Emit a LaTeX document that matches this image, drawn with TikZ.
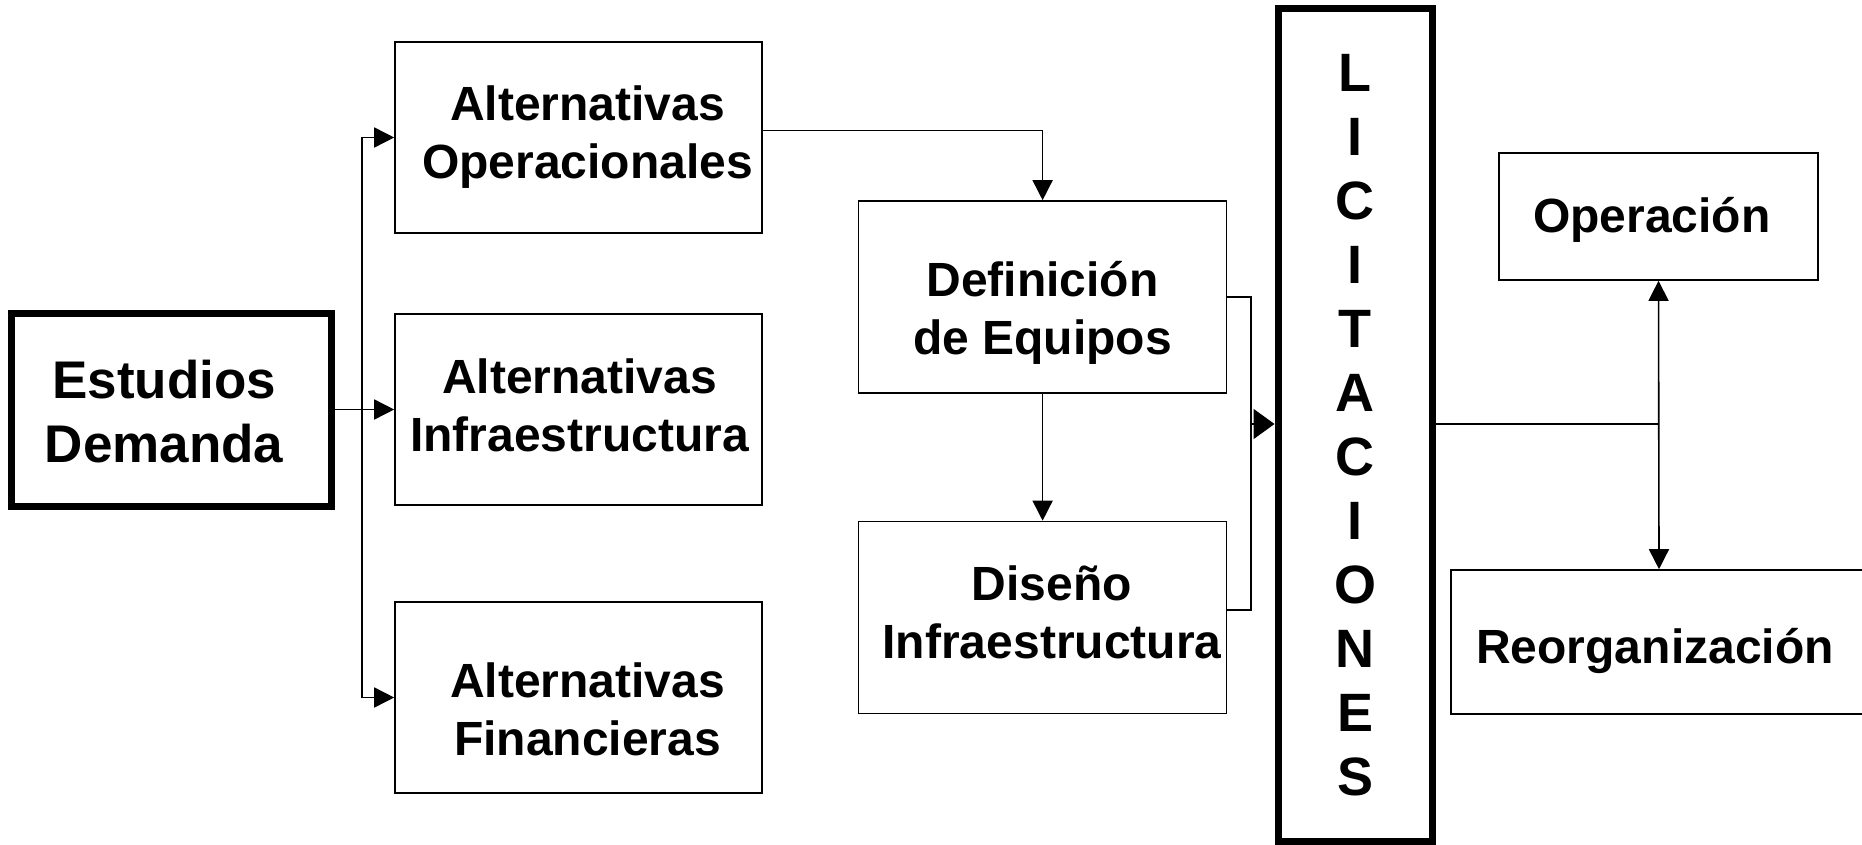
\documentclass[tikz,border=0pt]{standalone}
\usepackage{fontspec}
\setmainfont{Liberation Sans}
\usetikzlibrary{arrows.meta}
\tikzset{
  box/.style={draw, line width=0.8pt, inner sep=0pt,
    minimum width=183.5pt, minimum height=95.75pt},
  thickbox/.style={box, line width=3.5pt},
  boxtext/.style={align=center, inner sep=0pt,
    font=\fontsize{24}{29}\selectfont\bfseries},
  tip/.style={-{Triangle[length=10pt,width=10pt]}, line width=0.8pt},
  line/.style={line width=0.8pt}
}
\begin{document}
\begin{tikzpicture}[x=0.5pt,y=-0.5pt]
\useasboundingbox (0,0) rectangle (1862,845);
% left column
\node[thickbox, minimum width=160pt, minimum height=96.5pt,
  label={[boxtext, font=\fontsize{26.5}{32}\selectfont\bfseries, shift={(-3.4pt,-1.2pt)}]center:Estudios\\Demanda}]
  (est) at (171,409.5) {};
\node[box, label={[boxtext, shift={(4.5pt,0pt)}]center:Alternativas\\Operacionales}] (altop) at (578.5,137.5) {};
\node[box, label={[boxtext, shift={(0.5pt,2pt)}]center:Alternativas\\Infraestructura}] (altinf) at (578.5,409.5) {};
\node[box, label={[boxtext, shift={(4.5pt,-6pt)}]center:Alternativas\\Financieras}] (altfin) at (578.5,697.5) {};
% middle
\node[box, minimum width=184pt, minimum height=96pt,
  label={[boxtext, yshift=-7.7pt]center:Definición\\de Equipos}] (defeq) at (1042.6,297) {};
\node[box, minimum width=184pt, minimum height=96pt,
  label={[boxtext, shift={(4.7pt,2.7pt)}]center:Diseño\\Infraestructura}] (diseno) at (1042.6,617.5) {};
\node[thickbox, minimum width=77pt, minimum height=416pt,
  label={[boxtext, font=\fontsize{27}{32}\selectfont\bfseries]center:L\\I\\C\\I\\T\\A\\C\\I\\O\\N\\E\\S}]
  (lic) at (1355,425) {};
% right
\node[box, minimum width=159.5pt, minimum height=63.5pt,
  label={[boxtext, shift={(-3.3pt,-1.8pt)}]center:Operación}] (oper) at (1658.5,216.5) {};
\node[box, minimum width=208pt, minimum height=72pt,
  label={[boxtext, shift={(-2pt,-4.7pt)}]center:Reorganización}] (reorg) at (1659,642) {};

% connectors
\coordinate (split) at (362,409.5);
\draw[tip] (est.east) -- (altinf.west);
\draw[tip] (split) |- (altop.west);
\draw[tip] (split) |- (altfin.west);
\coordinate (opout) at ([yshift=3.4pt]altop.east);
\draw[tip] (opout) -| (defeq.north);
\draw[tip] (defeq.south) -- (diseno.north);
\coordinate (b1) at (1251,297);
\coordinate (b2) at (1251,610);
\coordinate (bmid) at (1251,424);
\draw[line] (defeq.east) -- (b1) -- (b2) -- ([yshift=3.75pt]diseno.east);
\draw[line, -{Triangle[length=10.5pt,width=15pt]}] (bmid) -- (bmid -| lic.west);
\coordinate (jn) at (1659,424);
\draw[line] (jn -| lic.east) -- (jn);
\draw[tip, {Triangle[length=10pt,width=10pt]}-{Triangle[length=10pt,width=10pt]}] (oper.south) -- (reorg.north);
\end{tikzpicture}
\end{document}
